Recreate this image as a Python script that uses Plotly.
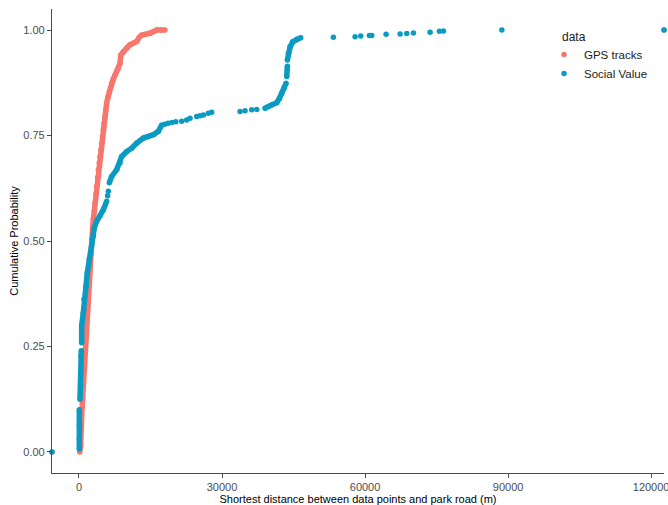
import plotly.graph_objects as go

# ---------------- data ----------------
gps_x = [150, 350, 560, 750, 910, 1100, 1260, 1450, 1610, 1800, 1960, 2150, 2310, 2500,
         2660, 2850, 3010, 3200, 3360, 3550, 3710, 3900, 4060, 4230, 4400, 4580, 4760,
         4930, 5100, 5270, 5450, 5620, 5800, 6080, 6360, 6600, 6850, 7200, 7550, 7900,
         8250, 8600, 8800, 9300, 10000, 10700, 11400, 12100, 12650, 13150, 14000, 14900,
         15600, 16300, 17200, 18040]
gps_y = [0.0, 0.015, 0.086, 0.125, 0.165, 0.205, 0.243, 0.283, 0.322, 0.35, 0.378, 0.41,
         0.44, 0.47, 0.504, 0.53, 0.551, 0.57, 0.59, 0.61, 0.63, 0.65, 0.669, 0.685, 0.70,
         0.716, 0.732, 0.748, 0.764, 0.78, 0.795, 0.811, 0.827, 0.841, 0.854, 0.864, 0.874,
         0.884, 0.893, 0.901, 0.909, 0.921, 0.941, 0.949, 0.957, 0.965, 0.969, 0.973,
         0.983, 0.988, 0.99, 0.992, 0.996, 1.0, 1.0, 1.0]

social_x = [70, 70, 70, 70, 210, 350, 350, 420, 490, 560, 560, 910, 1050, 1470, 1750, 2170,
            2660, 3010, 3220, 3710, 4400, 5100, 5800, 6000, 6150, 6360, 6850, 7900, 8600,
            8950, 10000, 11050, 12100, 13500, 14550, 15600, 16640, 17350, 18000, 18700,
            19500, 20300, 21540, 22590, 23290, 24690, 25390, 26090, 27130, 27830, 33780,
            34830, 36230, 37280, 39020, 39720, 40420, 41470, 42030, 42520, 43010, 43430,
            43570, 43710, 43710, 43920, 44270, 44830, 45670, 46510, 53360, 57910, 59100,
            60910, 61400, 64410, 67350, 68750, 70150, 73640, 75600, 76440, 88700]
social_y = [0.007, 0.031, 0.062, 0.100, 0.125, 0.157, 0.188, 0.228, 0.240, 0.259, 0.299,
            0.330, 0.362, 0.393, 0.425, 0.456, 0.488, 0.512, 0.531, 0.547, 0.559, 0.574,
            0.594, 0.607, 0.618, 0.638, 0.653, 0.669, 0.685, 0.700, 0.712, 0.720, 0.732,
            0.744, 0.748, 0.752, 0.760, 0.775, 0.777, 0.779, 0.781, 0.783, 0.784, 0.787,
            0.791, 0.795, 0.797, 0.799, 0.803, 0.805, 0.807, 0.809, 0.811, 0.812, 0.815,
            0.819, 0.823, 0.828, 0.838, 0.850, 0.862, 0.874, 0.890, 0.914, 0.929, 0.945,
            0.960, 0.972, 0.978, 0.982, 0.983, 0.984, 0.986, 0.987, 0.987, 0.990, 0.991,
            0.992, 0.993, 0.995, 0.997, 0.998, 1.0]
# index ranges (inclusive) where the dots are so dense they form a continuous band
social_dense = [(0, 3), (4, 8), (9, 22), (25, 37), (54, 61), (62, 63), (64, 69)]

x_range = [-5660, 122700]          # panel limits (ecdf padding points sit on them)
y_range = [-0.05, 1.05]
x_ticks = [0, 30000, 60000, 90000, 120000]
y_ticks = [0.0, 0.25, 0.50, 0.75, 1.00]
y_ticklabels = ["0.00", "0.25", "0.50", "0.75", "1.00"]

series_names = ["GPS tracks", "Social Value"]
colors = ["#F8766D", "#0A9BC2"]

# ---------------- figure ----------------
MS = 5.5


def segments(xs, ys, ranges):
    ox, oy = [], []
    for a, b in ranges:
        ox += xs[a:b + 1] + [None]
        oy += ys[a:b + 1] + [None]
    return ox, oy


fig = go.Figure()

datasets = [
    (gps_x, gps_y, [(0, len(gps_x) - 1)]),
    (social_x, social_y, social_dense),
]
for (xs, ys, dense), name, col in zip(datasets, series_names, colors):
    lx, ly = segments(xs, ys, dense)
    fig.add_trace(go.Scatter(x=lx, y=ly, mode="lines", line=dict(color=col, width=MS),
                             showlegend=False, hoverinfo="skip", connectgaps=False))
    px = [x_range[0]] + xs + [x_range[1]]
    py = [0.0] + ys + [1.0]
    fig.add_trace(go.Scatter(x=px, y=py, mode="markers", name=name,
                             marker=dict(color=col, size=MS, line=dict(width=0)),
                             cliponaxis=False))

axis_common = dict(showgrid=False, zeroline=False, showline=True, linecolor="#4a4a4a",
                   linewidth=1.2, ticks="outside", ticklen=4, tickcolor="#4a4a4a",
                   tickwidth=1.1, tickfont=dict(size=11, color="#4D4D4D"),
                   ticklabeloverflow="allow")

fig.update_layout(
    width=668, height=505,
    margin=dict(l=52, r=4, t=9, b=32),
    paper_bgcolor="white", plot_bgcolor="white",
    font=dict(family="Liberation Sans, Arial, sans-serif", color="#000000"),
    xaxis=dict(range=x_range, tickvals=x_ticks, ticktext=[str(v) for v in x_ticks],
               title=dict(text="Shortest distance between data points and park road (m)",
                          font=dict(size=11), standoff=2),
               automargin=False, **axis_common),
    yaxis=dict(range=y_range, tickvals=y_ticks, ticktext=y_ticklabels,
               title=dict(text="Cumulative Probability", font=dict(size=11), standoff=2),
               automargin=False, **axis_common),
    legend=dict(x=(544 - 52) / 612, y=(473 - 40) / 464, xanchor="left", yanchor="top",
                bgcolor="rgba(255,255,255,0)", font=dict(size=11.5, color="#1a1a1a"),
                tracegroupgap=0),
    annotations=[dict(text="data", xref="paper", yref="paper", x=(560 - 52) / 612,
                      y=(473 - 37) / 464, xanchor="left", yanchor="middle",
                      showarrow=False, font=dict(size=12, color="#1a1a1a"))],
)

fig.write_html("out.html", config={"displayModeBar": False},
               post_script="document.body.style.margin='0px';document.body.style.padding='0px';document.body.style.overflow='hidden';")
